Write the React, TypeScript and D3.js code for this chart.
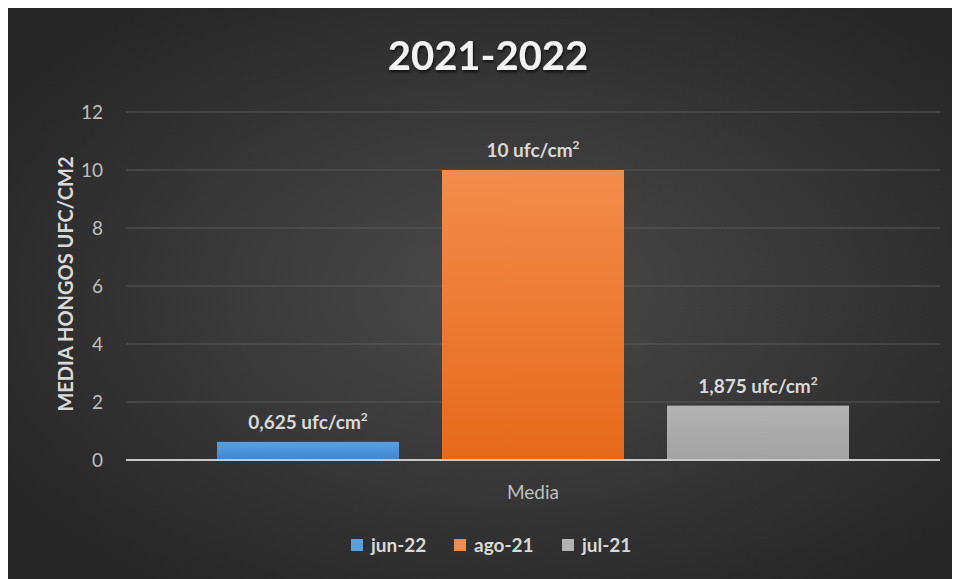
import * as d3 from "d3";

const categories = ["Media"];
const seriesNames = ["jun-22", "ago-21", "jul-21"];
const seriesValues = [0.625, 10, 1.875];
const valueLabels = ["0,625 ufc/cm", "10 ufc/cm", "1,875 ufc/cm"];
const yTicks = [0, 2, 4, 6, 8, 10, 12];
const seriesColors = [
  ["#5aa0e3", "#3d86cf"],
  ["#f38c4c", "#e5691b"],
  ["#b3b3b3", "#a2a2a2"],
];
const legendX = [351, 454, 562];

const W = 952;
const H = 573;
const font = "Lato, 'Open Sans', sans-serif";

export default function App() {
  // coordinates below are page coordinates; the svg sits at (8, 6)
  const plot = { left: 126, right: 940, top: 112, bottom: 460 };
  const x0 = d3.scaleBand().domain(categories).range([plot.left, plot.right]).paddingInner(0).paddingOuter(0.144);
  const x1 = d3.scaleBand().domain(seriesNames).range([0, x0.bandwidth()]).paddingInner(0.191);
  const y = d3.scaleLinear().domain([0, 12]).range([plot.bottom, plot.top]);
  const fmt = d3.format("d");

  return (
    <svg width={W} height={H} style={{ display: "block", marginTop: -2 }} fontFamily={font}>
      <defs>
        <radialGradient id="bg" cx="52%" cy="50%" r="62%">
          <stop offset="0%" stopColor="#4b4b4b" />
          <stop offset="100%" stopColor="#262626" />
        </radialGradient>
        {seriesColors.map((c, i) => (
          <linearGradient key={i} id={`g${i}`} x1="0" y1="0" x2="0" y2="1">
            <stop offset="0%" stopColor={c[0]} />
            <stop offset="100%" stopColor={c[1]} />
          </linearGradient>
        ))}
        <filter id="shadow" x="-20%" y="-20%" width="140%" height="160%">
          <feDropShadow dx="1" dy="2" stdDeviation="1.5" floodColor="#000" floodOpacity="0.7" />
        </filter>
      </defs>
      <rect width={W} height={H} fill="url(#bg)" />
      <g transform="translate(-8,-6)">
        <text x={488} y={70} textAnchor="middle" fill="#f2f2f2" fontSize={40} fontWeight="bold" filter="url(#shadow)">
          2021-2022
        </text>
        {yTicks.map((t) => (
          <g key={t}>
            {t > 0 && (
              <line x1={plot.left} x2={plot.right} y1={y(t)} y2={y(t)} stroke="#585858" strokeWidth={1} />
            )}
            <text x={103} y={y(t)} dy="0.35em" textAnchor="end" fill="#bfbfbf" fontSize={19}>
              {fmt(t)}
            </text>
          </g>
        ))}
        <text
          transform={`translate(73,${(y(0) + y(12)) / 2 - 2}) rotate(-90)`}
          textAnchor="middle"
          fill="#d9d9d9"
          fontSize={20}
          fontWeight="bold"
        >
          MEDIA HONGOS UFC/CM2
        </text>
        {categories.map((c) => (
          <g key={c} transform={`translate(${x0(c)},0)`}>
            {seriesNames.map((s, i) => (
              <g key={s}>
                <rect
                  x={x1(s)}
                  y={y(seriesValues[i])}
                  width={x1.bandwidth()}
                  height={y(0) - y(seriesValues[i])}
                  fill={`url(#g${i})`}
                />
                <text
                  x={(x1(s) ?? 0) + x1.bandwidth() / 2}
                  y={y(seriesValues[i]) - 13}
                  textAnchor="middle"
                  fill="#d9d9d9"
                  fontSize={19}
                  fontWeight="bold"
                >
                  {valueLabels[i]}
                  <tspan fontSize={12} dy={-8}>2</tspan>
                </text>
              </g>
            ))}
            <text x={x0.bandwidth() / 2} y={y(0) + 39} textAnchor="middle" fill="#bfbfbf" fontSize={19}>
              {c}
            </text>
          </g>
        ))}
        <line x1={plot.left} x2={plot.right} y1={y(0)} y2={y(0)} stroke="#c8c8c8" strokeWidth={2} />
        {seriesNames.map((s, i) => (
          <g key={s} transform={`translate(${legendX[i]},545)`}>
            <rect x={0} y={-6} width={12} height={12} fill={seriesColors[i][0]} />
            <text x={20} y={0} dy="0.35em" fill="#d9d9d9" fontSize={19} fontWeight="bold">
              {s}
            </text>
          </g>
        ))}
      </g>
    </svg>
  );
}
